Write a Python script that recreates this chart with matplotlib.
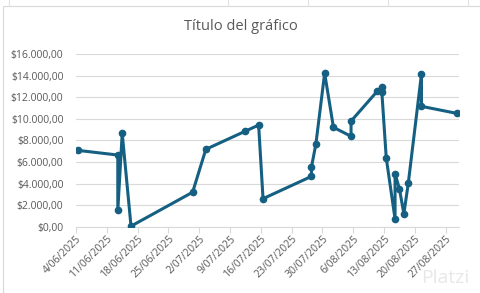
import numpy as np
import pandas as pd
import matplotlib
matplotlib.use("Agg")
import matplotlib.pyplot as plt
import matplotlib.dates as mdates
from matplotlib.ticker import FuncFormatter, MultipleLocator, FixedLocator
from matplotlib.lines import Line2D
from matplotlib.patches import Rectangle

# Data
dates = ['2025-06-04', '2025-06-13', '2025-06-13', '2025-06-14', '2025-06-16',
         '2025-06-30', '2025-07-03', '2025-07-12', '2025-07-15', '2025-07-16',
         '2025-07-27', '2025-07-27', '2025-07-28', '2025-07-30', '2025-08-01',
         '2025-08-05', '2025-08-05', '2025-08-11', '2025-08-12', '2025-08-12',
         '2025-08-13', '2025-08-15', '2025-08-15', '2025-08-16', '2025-08-17',
         '2025-08-18', '2025-08-21', '2025-08-21', '2025-08-29']
values = [7080, 6650, 1520, 8660, 50,
          3200, 7180, 8870, 9430, 2600,
          4670, 5540, 7640, 14250, 9220,
          8390, 9800, 12590, 12990, 12470,
          6370, 710, 4920, 3500, 1200,
          4020, 14170, 11170, 10520]
title = "Título del gráfico"
x_start = '2025-06-04'
x_end = '2025-08-30'
y_max = 16000

# points sit in the middle of their day (Excel date axis)
x = pd.to_datetime(dates) + pd.Timedelta(hours=12)
tick_dates = pd.date_range(x_start, x_end, freq='7D')

plt.rcParams['font.family'] = ['Open Sans', 'DejaVu Sans']
grey = '#595959'
line_col = '#156082'

fig = plt.figure(figsize=(4.81, 2.93), dpi=100)
ax = fig.add_axes([0.158, 0.2263, 0.796, 0.5884])

# chart area border and spreadsheet gridlines
fig.add_artist(Rectangle((3 / 481, -0.01), 1.0, 1 - 6 / 293 + 0.01,
                         transform=fig.transFigure, fill=False,
                         edgecolor='#d9d9d9', lw=0.8))
for px in [9, 228, 308, 388, 468]:
    fig.add_artist(Line2D([px / 481, px / 481], [1 - 6 / 293, 1],
                          transform=fig.transFigure, color='#e3e3e3', lw=0.8))

# watermark (behind everything)
fig.text(0.925, 0.052, "Platzi", ha='center', va='center', fontsize=14,
         color='#e8e8e8', zorder=0)

ax.plot(x, values, color=line_col, lw=2.2, marker='o', markersize=4.5,
        solid_joinstyle='round', zorder=3)

ax.set_xlim(pd.Timestamp(x_start), pd.Timestamp(x_end))
ax.set_ylim(0, y_max)

ax.xaxis.set_major_locator(FixedLocator(mdates.date2num(tick_dates)))
ax.xaxis.set_major_formatter(FuncFormatter(
    lambda v, pos: (lambda d: f"{d.day}/{d.month:02d}/{d.year}")(mdates.num2date(v))))
ax.yaxis.set_major_locator(MultipleLocator(2000))
ax.yaxis.set_major_formatter(FuncFormatter(
    lambda v, pos: "$" + f"{v:,.2f}".replace(",", "X").replace(".", ",").replace("X", ".")))

ax.grid(axis='y', color='#d9d9d9', lw=0.8)
ax.set_axisbelow(True)
ax.patch.set_alpha(0)
for s in ['top', 'right', 'left']:
    ax.spines[s].set_visible(False)
ax.spines['bottom'].set_color('#d9d9d9')
ax.spines['bottom'].set_linewidth(0.8)

ax.tick_params(axis='y', length=0, labelsize=7.5, labelcolor=grey, pad=9)
ax.tick_params(axis='x', length=4, color='#d9d9d9', width=0.8,
               labelsize=7.5, labelcolor=grey, pad=1)
for lab in ax.get_xticklabels():
    lab.set_rotation(45)
    lab.set_ha('right')
    lab.set_rotation_mode('anchor')

fig.text(0.5, 1 - 27 / 293, title, ha='center', va='center',
         fontsize=10.5, color=grey)

fig.savefig("out.png", dpi=100)
